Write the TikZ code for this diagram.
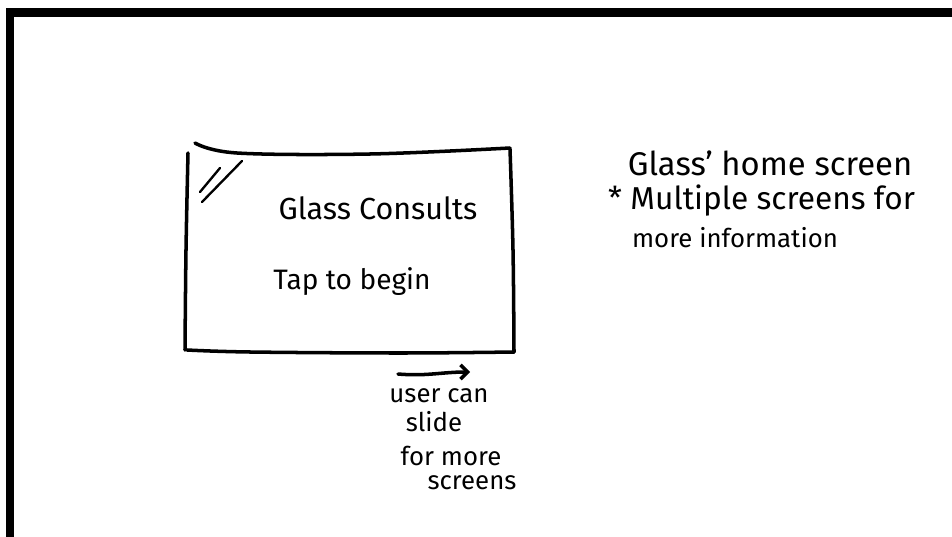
\documentclass[tikz,border=0pt]{standalone}
\usepackage{fontspec}
\setmainfont{Fira Sans}
\usetikzlibrary{arrows.meta}
\tikzset{
  pen/.style={line width=3pt, line cap=round, line join=round},
  note/.style={inner sep=0pt, font=\fontsize{22}{24}\selectfont},
}
\begin{document}
\begin{tikzpicture}[x=0.03cm, y=-0.03cm]
    % Page
    \fill[white] (0,0) rectangle (952,537);
    \useasboundingbox (0,0) rectangle (952,537);

    % Frame
    \fill[black] (6,8) rectangle (952,17);
    \fill[black] (6,8) rectangle (14,537);

    % Screen outline
    \draw[pen] plot[smooth, tension=0.6] coordinates {(195,143) (237,153) (370,154) (510,148)};
    \draw[pen] plot[smooth, tension=0.6] coordinates {(510,149) (513,250) (514,352)};
    \draw[pen] plot[smooth, tension=0.6] coordinates {(514,352) (400,353) (250,352) (187,350)};
    \draw[pen] plot[smooth, tension=0.6] coordinates {(188,153) (186,250) (185,350)};

    % Glare
    \draw[pen, line width=2pt] (200,192) -- (220,168);
    \draw[pen, line width=2pt] (202,202) -- (242,161);

    % Screen text
    \node[note, font=\fontsize{26}{28}\selectfont] (title) at (378,208) {Glass Consults};
    \node[note, font=\fontsize{24}{26}\selectfont] (tap) at (352,282) {Tap to begin};

    % Slide arrow
    \draw[pen, -{Straight Barb[length=6pt]}] (398,374) to[out=-5, in=180] (470,372);

    % Slide note
    \node[note] (user) at (439,396) {user can};
    \node[note] (slide) at (434,422) {slide};
    \node[note] (formore) at (451,456) {for more};
    \node[note] (screens) at (472,483) {screens};

    % Side notes
    \node[note, font=\fontsize{28}{30}\selectfont] (home) at (770,163) {Glass' home screen};
    \node[note, font=\fontsize{27}{29}\selectfont, anchor=west] (multi) at (608,201) {* Multiple screens for};
    \node[note, font=\fontsize{22}{24}\selectfont] (info) at (735,238) {more information};
\end{tikzpicture}
\end{document}
